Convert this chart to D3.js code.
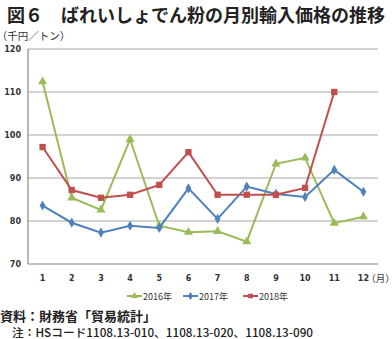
<!DOCTYPE html>
<html><head><meta charset="utf-8">
<script src="https://cdn.jsdelivr.net/npm/d3@7"></script>
<style>body{margin:0;background:#fff}svg{display:block}.halt{font-feature-settings:"halt"}</style>
</head><body>
<svg id="c" width="392" height="339"></svg>
<script>
const months = ["1","2","3","4","5","6","7","8","9","10","11","12"];
const s2016 = [112.4,85.4,82.6,99.0,78.9,77.4,77.6,75.2,93.3,94.7,79.5,81.0];
const s2017 = [83.6,79.6,77.3,78.9,78.4,87.6,80.5,88.0,86.3,85.6,91.9,86.8];
const s2018 = [97.2,87.2,85.4,86.1,88.4,96.0,86.1,86.1,86.1,87.7,110.0,null];
const yTicks = [70,80,90,100,110,120];
const seriesNames = ["2016年","2017年","2018年"];
const colors = ["#9BBB59","#4F81BD","#C0504D"];
const shapes = [d3.symbolTriangle, d3.symbolDiamond, d3.symbolSquare];

const svg = d3.select("#c");
const jp = "'Noto Sans CJK JP', sans-serif";
const x = d3.scaleBand().domain(months).range([28,378]);
const y = d3.scaleLinear().domain([70,120]).range([264,49]);
const cx = m => x(m) + x.bandwidth()/2;

svg.append("text").attr("x",7).attr("y",22).attr("font-family",jp).attr("font-weight",700)
  .attr("font-size",18).attr("fill","#222").text("図６　ばれいしょでん粉の月別輸入価格の推移");
svg.append("text").attr("class","halt").attr("x",2).attr("y",40).attr("font-family",jp).attr("font-size",10.5)
  .attr("fill","#333").text("（千円／トン）");

// grid
svg.append("g").selectAll("line").data(yTicks.filter(t=>t>70)).join("line")
  .attr("x1",28).attr("x2",378).attr("y1",d=>y(d)).attr("y2",d=>y(d))
  .attr("stroke","#a6a6a6").attr("stroke-width",1.2);
svg.append("line").attr("x1",28).attr("x2",378).attr("y1",y(70)).attr("y2",y(70)).attr("stroke","#888").attr("stroke-width",1.2);
svg.append("line").attr("x1",28).attr("x2",28).attr("y1",y(120)).attr("y2",y(70)).attr("stroke","#888").attr("stroke-width",1.2);

svg.append("g").selectAll("text").data(yTicks).join("text")
  .attr("x",21).attr("y",d=>y(d)+3).attr("text-anchor","end")
  .attr("font-family","'DejaVu Sans', sans-serif").attr("font-size",8).attr("font-weight",700)
  .attr("fill","#333").text(d=>d);
svg.append("g").selectAll("text").data(months).join("text")
  .attr("x",d=>cx(d)).attr("y",281).attr("text-anchor","middle")
  .attr("font-family","'DejaVu Sans', sans-serif").attr("font-size",8).attr("font-weight",700)
  .attr("fill","#333").text(d=>d);
svg.append("text").attr("class","halt").attr("x",371).attr("y",282).attr("font-family",jp).attr("font-size",9.5)
  .attr("fill","#333").text("（月）");

const all = [s2016,s2017,s2018];
all.forEach((s,i)=>{
  const pts = s.map((v,j)=>({m:months[j],v})).filter(d=>d.v!=null);
  svg.append("path").datum(pts).attr("fill","none").attr("stroke",colors[i]).attr("stroke-width",2)
    .attr("d",d3.line().x(d=>cx(d.m)).y(d=>y(d.v)));
  const sz = i===1?30:(i===0?36:40);
  svg.append("g").selectAll("path").data(pts).join("path")
    .attr("transform",d=>`translate(${cx(d.m)},${y(d.v)})`)
    .attr("d",d3.symbol().type(shapes[i]).size(sz)).attr("fill",colors[i]);
});

// legend
const lx = [127,183,243];
seriesNames.forEach((n,i)=>{
  const g = svg.append("g").attr("transform",`translate(${lx[i]},296)`);
  g.append("line").attr("x1",0).attr("x2",15).attr("stroke",colors[i]).attr("stroke-width",2);
  g.append("path").attr("transform","translate(7.5,0)").attr("d",d3.symbol().type(shapes[i]).size(22)).attr("fill",colors[i]);
  g.append("text").attr("x",16).attr("y",3.5).attr("font-family",jp).attr("font-size",9).attr("fill","#333").text(n);
});

svg.append("text").attr("x",0).attr("y",321).attr("font-family",jp).attr("font-weight",700)
  .attr("font-size",13).attr("fill","#222").text("資料：財務省「貿易統計」");
svg.append("text").attr("x",12).attr("y",337).attr("font-family",jp).attr("font-weight",500)
  .attr("font-size",11.5).attr("fill","#222").attr("textLength",301).attr("lengthAdjust","spacingAndGlyphs")
  .text("注：HSコード1108.13-010、1108.13-020、1108.13-090");
</script>
</body></html>
